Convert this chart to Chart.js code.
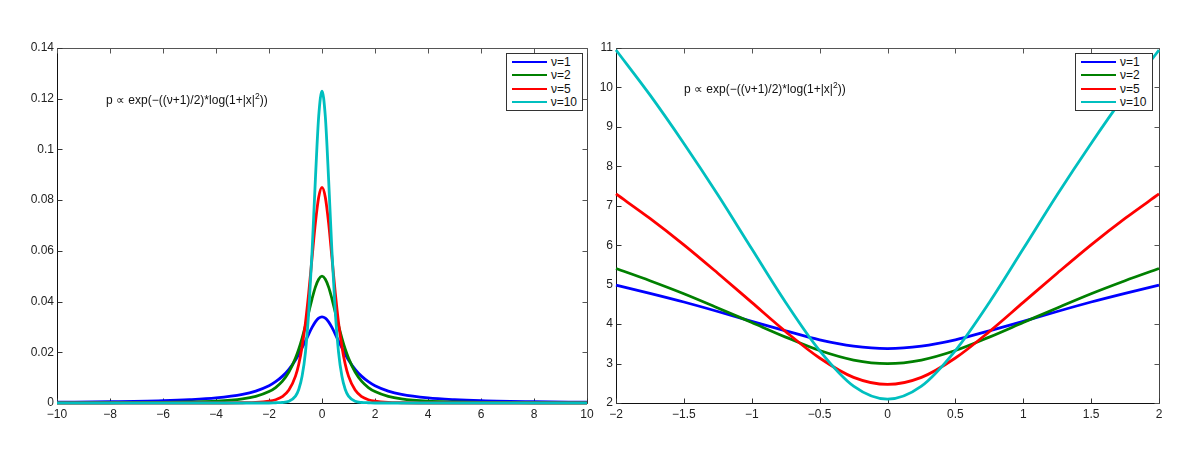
<!DOCTYPE html>
<html>
<head>
<meta charset="utf-8">
<script src="https://cdn.jsdelivr.net/npm/chart.js@4.4.1/dist/chart.umd.min.js"></script>
<style>
  body { margin: 0; background: #fff; font-family: "Liberation Sans", Arial, sans-serif; }
  #wrap { position: relative; width: 1200px; height: 451px; overflow: hidden; }
  .pane { position: absolute; top: 0; height: 451px; }
  .legend { position: absolute; box-sizing: border-box; background: #fff; border: 1px solid #333;
            padding: 1px 5px; font-size: 12px; color: #111; }
  .legend .row { display: flex; align-items: center; height: 13.5px; }
  .legend .sw { width: 35px; height: 0; border-top: 2.5px solid; margin-right: 4px; }
  .note { position: absolute; font-size: 12px; line-height: 14px; color: #111; white-space: nowrap; }
  .note sup { font-size: 8.5px; line-height: 0; }
</style>
</head>
<body>
<div id="wrap">
  <div class="pane" style="left:0;width:600px"><canvas id="chartL" width="600" height="451"></canvas></div>
  <div class="pane" style="left:590px;width:610px"><canvas id="chartR" width="610" height="451"></canvas></div>
  <div class="note" style="left:106px;top:93px">p &prop; exp(&minus;((&nu;+1)/2)*log(1+|x|<sup>2</sup>))</div>
  <div class="note" style="left:684px;top:82px">p &prop; exp(&minus;((&nu;+1)/2)*log(1+|x|<sup>2</sup>))</div>
  <div class="legend" id="legL" style="left:506px;top:53px;width:77px;height:58px"></div>
  <div class="legend" id="legR" style="left:1075px;top:53px;width:78px;height:58px"></div>
</div>
<script>
const labels = ['\u03bd=1', '\u03bd=2', '\u03bd=5', '\u03bd=10'];
const colors = ['#0000ff', '#008000', '#ff0000', '#00bfbf'];

// left panel: density
const leftX = [-10, -8, -6, -5, -4, -3, -2.5, -2, -1.75, -1.5, -1.25, -1, -0.875, -0.75, -0.625, -0.5, -0.375, -0.25, -0.125,
  0, 0.125, 0.25, 0.375, 0.5, 0.625, 0.75, 0.875, 1, 1.25, 1.5, 1.75, 2, 2.5, 3, 4, 5, 6, 8, 10];
const leftNu1 = [0.0003, 0.0005, 0.0009, 0.0013, 0.0020, 0.0034, 0.0047, 0.0068, 0.0084, 0.0105, 0.0133, 0.0170, 0.0193, 0.0218, 0.0244, 0.0272, 0.0298, 0.0320, 0.0335,
  0.034, 0.0335, 0.0320, 0.0298, 0.0272, 0.0244, 0.0218, 0.0193, 0.0170, 0.0133, 0.0105, 0.0084, 0.0068, 0.0047, 0.0034, 0.0020, 0.0013, 0.0009, 0.0005, 0.0003];
const leftNu2 = [0.00005, 0.0001, 0.0002, 0.0004, 0.0007, 0.0016, 0.0026, 0.0045, 0.0061, 0.0085, 0.0122, 0.0177, 0.0213, 0.0256, 0.0305, 0.0358, 0.0411, 0.0457, 0.0488,
  0.050, 0.0488, 0.0457, 0.0411, 0.0358, 0.0305, 0.0256, 0.0213, 0.0177, 0.0122, 0.0085, 0.0061, 0.0045, 0.0026, 0.0016, 0.0007, 0.0004, 0.0002, 0.0001, 0.00005];
const leftNu5 = [0, 0, 0, 0, 0, 0.0001, 0.0002, 0.0007, 0.0013, 0.0025, 0.0051, 0.0106, 0.0154, 0.0223, 0.0316, 0.0435, 0.0573, 0.0709, 0.0811,
  0.085, 0.0811, 0.0709, 0.0573, 0.0435, 0.0316, 0.0223, 0.0154, 0.0106, 0.0051, 0.0025, 0.0013, 0.0007, 0.0002, 0.0001, 0, 0, 0, 0, 0];
const leftNu10 = [0, 0, 0, 0, 0, 0, 0, 0, 0.0001, 0.0002, 0.0007, 0.0027, 0.0054, 0.0106, 0.0200, 0.036, 0.0597, 0.0881, 0.113,
  0.123, 0.113, 0.0881, 0.0597, 0.036, 0.0200, 0.0106, 0.0054, 0.0027, 0.0007, 0.0002, 0.0001, 0, 0, 0, 0, 0, 0, 0, 0];

// right panel: negative log density
const rightX = [-2, -1.75, -1.5, -1.25, -1, -0.75, -0.5, -0.25, 0, 0.25, 0.5, 0.75, 1, 1.25, 1.5, 1.75, 2];
const rightNu1 = [4.99, 4.78, 4.56, 4.32, 4.07, 3.83, 3.60, 3.44, 3.38, 3.44, 3.60, 3.83, 4.07, 4.32, 4.56, 4.78, 4.99];
const rightNu2 = [5.41, 5.10, 4.77, 4.41, 4.04, 3.67, 3.33, 3.09, 3.00, 3.09, 3.33, 3.67, 4.04, 4.41, 4.77, 5.10, 5.41];
const rightNu5 = [7.30, 6.68, 6.01, 5.29, 4.55, 3.81, 3.14, 2.65, 2.47, 2.65, 3.14, 3.81, 4.55, 5.29, 6.01, 6.68, 7.30];
const rightNu10 = [10.95, 9.81, 8.58, 7.28, 5.91, 4.55, 3.33, 2.43, 2.10, 2.43, 3.33, 4.55, 5.91, 7.28, 8.58, 9.81, 10.95];

// frame + inward ticks, matlab style
const frameTicks = {
  id: 'frameTicks',
  beforeDatasetsDraw(chart) {
    const { ctx, chartArea: a, scales: { x, y } } = chart;
    const L = Math.round(a.left) + 0.5, R = Math.round(a.right) + 0.5;
    const T = Math.round(a.top) + 0.5, B = Math.round(a.bottom) + 0.5;
    const seg = (x1, y1, x2, y2, c) => {
      ctx.strokeStyle = c; ctx.beginPath(); ctx.moveTo(x1, y1); ctx.lineTo(x2, y2); ctx.stroke();
    };
    ctx.save();
    ctx.lineWidth = 1;
    seg(L, T, R, T, '#555');
    seg(R, T, R, B, '#444');
    seg(L, T, L, B, '#111');
    seg(L, B, R, B, '#111');
    x.ticks.forEach(t => {
      const p = Math.round(x.getPixelForValue(t.value)) + 0.5;
      seg(p, B, p, B - 5, '#333');
      seg(p, T, p, T + 5, '#555');
    });
    y.ticks.forEach(t => {
      const p = Math.round(y.getPixelForValue(t.value)) + 0.5;
      seg(L, p, L + 5, p, '#333');
      seg(R, p, R - 5, p, '#555');
    });
    ctx.restore();
  }
};

const fmt = v => String(+v.toFixed(2)).replace('-', '\u2212');

function makeChart(id, xs, series, xr, yr, yWidth, padRight) {
  return new Chart(document.getElementById(id), {
    type: 'line',
    data: {
      datasets: series.map((s, i) => ({
        label: labels[i],
        data: xs.map((x, j) => ({ x: x, y: s[j] })),
        borderColor: colors[i],
        borderWidth: 2.8,
        pointRadius: 0,
        cubicInterpolationMode: 'monotone',
        clip: false,
        order: 3 - i
      }))
    },
    options: {
      responsive: false,
      animation: false,
      layout: { padding: { top: 48, right: padRight, left: 0, bottom: 0 } },
      plugins: { legend: { display: false }, tooltip: { enabled: false } },
      scales: {
        x: {
          type: 'linear', min: xr[0], max: xr[1],
          grid: { display: false, drawTicks: false }, border: { display: false },
          ticks: { stepSize: xr[2], padding: 4, color: '#222', maxRotation: 0,
                   font: { family: '"Liberation Sans", Arial', size: 12 }, callback: fmt },
          afterFit: s => { s.height = 48; }
        },
        y: {
          min: yr[0], max: yr[1],
          grid: { display: false, drawTicks: false }, border: { display: false },
          ticks: { stepSize: yr[2], padding: 3, color: '#222',
                   font: { family: '"Liberation Sans", Arial', size: 12 }, callback: fmt },
          afterFit: s => { s.width = yWidth; }
        }
      }
    },
    plugins: [frameTicks]
  });
}

makeChart('chartL', leftX, [leftNu1, leftNu2, leftNu5, leftNu10], [-10, 10, 2], [0, 0.14, 0.02], 57, 13);
makeChart('chartR', rightX, [rightNu1, rightNu2, rightNu5, rightNu10], [-2, 2, 0.5], [2, 11, 1], 26, 41);

// legends
['legL', 'legR'].forEach(id => {
  document.getElementById(id).innerHTML = labels.map((l, i) =>
    `<div class="row"><span class="sw" style="border-color:${colors[i]}"></span>${l}</div>`).join('');
});
</script>
</body>
</html>
